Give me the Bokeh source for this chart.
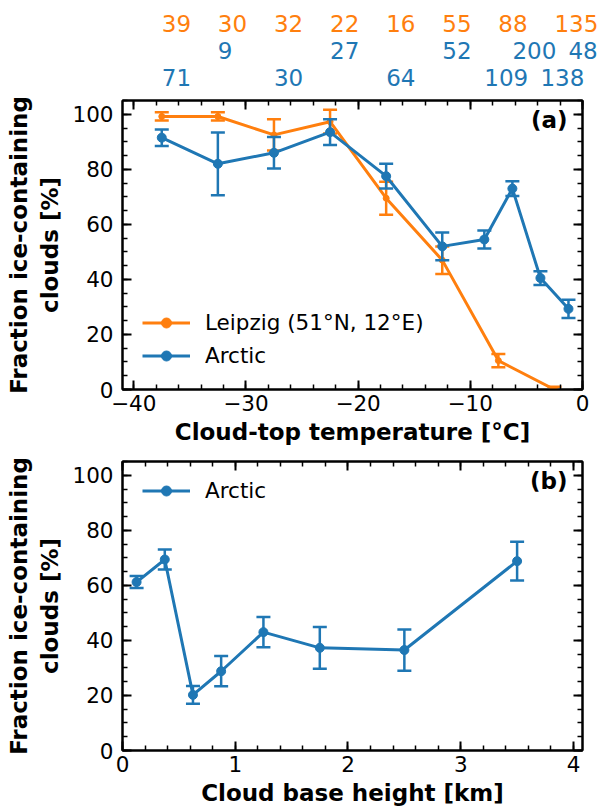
from bokeh.plotting import figure
from bokeh.layouts import column
from bokeh.models import (ColumnDataSource, FixedTicker, LinearAxis, Range1d,
                          Legend, LegendItem, Label)
from bokeh.core.properties import value
from bokeh.embed import file_html
from bokeh.resources import INLINE

# ---------------- data: panel (a) ----------------
leipzig_temp = [-37.5, -32.5, -27.5, -22.5, -17.5, -12.5, -7.5, -2.5]
leipzig_frac = [99.2, 99.2, 92.5, 97.3, 69.5, 47.0, 10.5, 0.0]
leipzig_err = [1.5, 1.5, 5.7, 4.3, 6.0, 5.0, 2.4, 1.0]
leipzig_n = [39, 30, 32, 22, 16, 55, 88, 135]

arctic_temp = [-37.5, -32.5, -27.5, -22.5, -17.5, -12.5, -8.75, -6.25, -3.75, -1.25]
arctic_frac = [91.5, 82.0, 86.0, 93.5, 77.5, 52.0, 54.5, 73.0, 40.5, 29.3]
arctic_err = [3.0, 11.4, 5.7, 4.7, 4.5, 5.0, 3.3, 2.7, 2.5, 3.3]
arctic_n = [71, 9, 30, 27, 64, 52, 109, 200, 138, 48]

# ---------------- data: panel (b) ----------------
base_height = [0.125, 0.375, 0.625, 0.875, 1.25, 1.75, 2.5, 3.5]
base_frac = [61.2, 69.4, 20.2, 28.8, 43.0, 37.3, 36.5, 68.8]
base_err = [2.2, 3.6, 3.2, 5.5, 5.5, 7.6, 7.5, 7.0]

temp_ticks = [-40, -30, -20, -10, 0]
temp_minor = list(range(-40, 1, 2))
height_ticks = [0, 1, 2, 3, 4]
height_minor = [i * 0.2 for i in range(0, 21)]
frac_ticks = [0, 20, 40, 60, 80, 100]
frac_minor = list(range(0, 106, 5))

FONT = "DejaVu Sans"
ORANGE = "#ff7f0e"
BLUE = "#1f77b4"
YLABEL = "Fraction ice-containing\nclouds [%]"

FRAME_W = 460
FRAME_H = 289
LEFT = 122
RIGHT = 22
T_START, T_END = -41, 0


def style_axis(ax, ticks, minor, labelled, overrides=None):
    ax.ticker = FixedTicker(ticks=ticks, minor_ticks=minor)
    ax.axis_line_width = 2
    ax.axis_line_color = "black"
    ax.major_tick_in = 9
    ax.major_tick_out = 0
    ax.minor_tick_in = 5
    ax.minor_tick_out = 0
    ax.major_tick_line_width = 2
    ax.minor_tick_line_width = 1.5
    ax.major_tick_line_color = "black"
    ax.minor_tick_line_color = "black"
    ax.major_label_text_font = FONT
    ax.major_label_text_color = "black"
    if labelled:
        ax.major_label_text_font_size = "21.5px"
        if overrides:
            ax.major_label_overrides = overrides
    else:
        ax.major_label_text_font_size = "0px"
        ax.major_label_overrides = {t: "" for t in ticks}
        ax.major_label_standoff = 0
    ax.axis_label_text_font = FONT
    ax.axis_label_text_font_style = "bold"
    ax.axis_label_text_font_size = "23px"
    ax.axis_label_text_color = "black"


def make_fig(x_start, x_end, xticks, xminor, xlabel, top, bottom, overrides=None):
    p = figure(frame_width=FRAME_W, frame_height=FRAME_H,
               x_range=Range1d(x_start, x_end), y_range=Range1d(0, 105),
               min_border_left=LEFT, min_border_right=RIGHT,
               min_border_top=top, min_border_bottom=bottom,
               output_backend="svg", toolbar_location=None)
    p.xgrid.visible = False
    p.ygrid.visible = False
    p.outline_line_color = "black"
    p.outline_line_width = 2
    p.background_fill_color = "white"
    p.border_fill_color = "white"
    style_axis(p.xaxis[0], xticks, xminor, True, overrides)
    p.xaxis[0].axis_label = xlabel
    style_axis(p.yaxis[0], frac_ticks, frac_minor, True)
    p.yaxis[0].axis_label = YLABEL
    p.yaxis[0].major_label_standoff = 9
    p.yaxis[0].axis_label_standoff = 6
    top_ax = LinearAxis()
    style_axis(top_ax, xticks, xminor, False)
    p.add_layout(top_ax, "above")
    right_ax = LinearAxis()
    style_axis(right_ax, frac_ticks, frac_minor, False)
    p.add_layout(right_ax, "right")
    return p


def errorbar(p, x, y, e, color, msize):
    src = ColumnDataSource(dict(x=x, y=y,
                                lo=[a - b for a, b in zip(y, e)],
                                hi=[a + b for a, b in zip(y, e)]))
    p.segment(x0="x", y0="lo", x1="x", y1="hi", source=src,
              line_color=color, line_width=2.5)
    p.scatter("x", "lo", marker="dash", size=14, source=src,
              line_color=color, line_width=2.5)
    p.scatter("x", "hi", marker="dash", size=14, source=src,
              line_color=color, line_width=2.5)
    ln = p.line("x", "y", source=src, line_color=color, line_width=3)
    pt = p.scatter("x", "y", source=src, size=msize,
                   fill_color=color, line_color=color)
    return [ln, pt]


def add_legend(p, items, loc):
    leg = Legend(items=items, location=loc, orientation="vertical")
    leg.label_text_font = FONT
    leg.label_text_font_size = "21.5px"
    leg.label_text_color = "black"
    leg.glyph_width = 48
    leg.glyph_height = 25
    leg.label_height = 25
    leg.label_standoff = 15
    leg.spacing = 8
    leg.padding = 0
    leg.margin = 0
    leg.border_line_color = None
    leg.background_fill_alpha = 0
    p.add_layout(leg)


minus = {t: (str(t).replace("-", "\u2212")) for t in temp_ticks}

# ---------------- number of cases strip (above panel a) ----------------
strip_w = FRAME_W + RIGHT
pn = figure(frame_width=strip_w, frame_height=90,
            x_range=Range1d(T_START, T_START + (T_END - T_START) * strip_w / FRAME_W),
            y_range=Range1d(90, 0),
            min_border_left=LEFT, min_border_right=0,
            min_border_top=0, min_border_bottom=0,
            x_axis_location=None, y_axis_location=None,
            output_backend="svg", toolbar_location=None)
pn.outline_line_color = None
pn.xgrid.visible = False
pn.ygrid.visible = False
pn.background_fill_color = "white"
pn.border_fill_color = "white"

rows = [
    (leipzig_temp, leipzig_n, ORANGE, 23),
    (arctic_temp[1::2], arctic_n[1::2], BLUE, 50),
    (arctic_temp[0::2], arctic_n[0::2], BLUE, 77),
]
for xs, ns, col, row_y in rows:
    src = ColumnDataSource(dict(x=xs, y=[row_y] * len(xs), t=[str(n) for n in ns]))
    pn.text(x="x", y="y", text="t", source=src, text_color=col,
            text_font=value(FONT), text_font_size=value("23px"),
            text_align="left", text_baseline="middle")

# ---------------- panel (a) ----------------
pa = make_fig(T_START, T_END, temp_ticks, temp_minor, "Cloud-top temperature [\u00b0C]",
              10, 68, overrides=minus)
pa.xaxis[0].major_label_standoff = 6
pa.xaxis[0].axis_label_standoff = 10
r_leip = errorbar(pa, leipzig_temp, leipzig_frac, leipzig_err, ORANGE, 6)
r_arc = errorbar(pa, arctic_temp, arctic_frac, arctic_err, BLUE, 9)
add_legend(pa, [LegendItem(label="Leipzig (51\u00b0N, 12\u00b0E)", renderers=r_leip),
                LegendItem(label="Arctic", renderers=r_arc)], (20, 21))
pa.add_layout(Label(x=445, y=270, x_units="screen", y_units="screen", text="(a)",
                    text_align="right", text_baseline="middle", text_font=FONT,
                    text_font_style="bold", text_font_size="23px", text_color="black"))

# ---------------- panel (b) ----------------
pb = make_fig(0, 4.08, height_ticks, height_minor, "Cloud base height [km]",
              4, 61)
pb.xaxis[0].major_label_standoff = 5
pb.xaxis[0].axis_label_standoff = 4
r_b = errorbar(pb, base_height, base_frac, base_err, BLUE, 9)
add_legend(pb, [LegendItem(label="Arctic", renderers=r_b)], (20, 247))
pb.add_layout(Label(x=445, y=270, x_units="screen", y_units="screen", text="(b)",
                    text_align="right", text_baseline="middle", text_font=FONT,
                    text_font_style="bold", text_font_size="23px", text_color="black"))

layout = column(pn, pa, pb, spacing=0)
open("out.html", "w").write(file_html(layout, INLINE))
